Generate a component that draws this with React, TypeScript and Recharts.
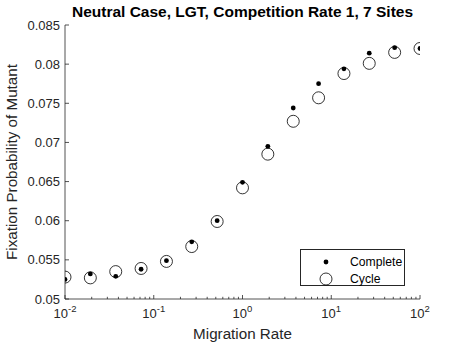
import React from 'react';
import { Legend, Scatter, ScatterChart, XAxis, YAxis } from 'recharts';

const rates = [0.01, 0.0193, 0.0373, 0.072, 0.139, 0.268, 0.518, 1, 1.93, 3.73, 7.2, 13.9, 26.8, 51.8, 100];
const complete = [0.0525, 0.0532, 0.0529, 0.0538, 0.0549, 0.0573, 0.06, 0.0649, 0.0695, 0.0744, 0.0775, 0.0794, 0.0814, 0.0821, 0.082];
const cycle = [0.0528, 0.0527, 0.0535, 0.0539, 0.0548, 0.0567, 0.0599, 0.0642, 0.0685, 0.0727, 0.0757, 0.0788, 0.0801, 0.0815, 0.082];

const majorX = [0.01, 0.1, 1, 10, 100];
const majorXExp = ['-2', '-1', '0', '1', '2'];
const minorX = majorX.slice(0, 4).flatMap((d) => [2, 3, 4, 5, 6, 7, 8, 9].map((m) => d * m));
const yTicks = [0.05, 0.055, 0.06, 0.065, 0.07, 0.075, 0.08, 0.085];
const yLabels = ['0.05', '0.055', '0.06', '0.065', '0.07', '0.075', '0.08', '0.085'];

const completeData = rates.map((r, i) => ({ rate: r, p: complete[i] }));
const cycleData = rates.map((r, i) => ({ rate: r, p: cycle[i] }));

const FONT = '"Liberation Sans", Arial, Helvetica, sans-serif';
const AXIS = '#262626';

const XTick = ({ x, y, payload }: any) => {
  const v = payload.value;
  const idx = majorX.findIndex((m) => Math.abs(m - v) / m < 1e-6);
  const major = idx >= 0;
  return (
    <g>
      <line x1={x} x2={x} y1={y} y2={y - (major ? 4 : 2.2)} stroke={AXIS} strokeWidth={0.8} />
      {major && (
        <text x={x} y={y + 19} textAnchor="middle" fontSize={13} fill={AXIS} fontFamily={FONT}>
          10
          <tspan dy={-6} fontSize={9.5}>{majorXExp[idx]}</tspan>
        </text>
      )}
    </g>
  );
};

const YTick = ({ x, y, payload, index }: any) => (
  <g>
    <line x1={x} x2={x + 4} y1={y} y2={y} stroke={AXIS} strokeWidth={0.8} />
    <text x={x - 5} y={y + 4.5} textAnchor="end" fontSize={13} fill={AXIS} fontFamily={FONT}>
      {yLabels[index] ?? payload.value}
    </text>
  </g>
);

const Dot = ({ cx, cy }: any) => <circle cx={cx} cy={cy} r={2.4} fill="#000" />;
const Ring = ({ cx, cy }: any) => <circle cx={cx} cy={cy} r={6} fill="none" stroke="#000" strokeWidth={0.8} />;

const LegendBox = () => (
  <div
    style={{
      position: 'absolute',
      left: 300,
      top: 249,
      width: 105,
      height: 37,
      border: '1px solid #262626',
      background: '#fff',
      boxSizing: 'border-box',
    }}
  >
    <svg width={105} height={37} style={{ position: 'absolute', left: -1, top: -1 }}>
      <circle cx={26} cy={13} r={2.4} fill="#000" />
      <circle cx={26} cy={30} r={6} fill="none" stroke="#000" strokeWidth={0.8} />
      <text x={50} y={17} fontSize={12.2} fill="#000" fontFamily={FONT}>Complete</text>
      <text x={50} y={34} fontSize={12.2} fill="#000" fontFamily={FONT}>Cycle</text>
    </svg>
  </div>
);

export default function App() {
  return (
    <div style={{ position: 'absolute', left: 0, top: 0, width: 464, height: 348, background: '#fff', fontFamily: FONT }}>
      <ScatterChart width={464} height={348} margin={{ top: 25, right: 44, bottom: 0, left: 0 }}>
        <XAxis
          type="number"
          dataKey="rate"
          scale="log"
          domain={[0.01, 100]}
          ticks={[...majorX, ...minorX].sort((a, b) => a - b)}
          interval={0}
          allowDataOverflow
          height={49}
          tickSize={0}
          tickMargin={0}
          tickLine={false}
          stroke={AXIS}
          strokeWidth={0.8}
          tick={<XTick />}
        />
        <YAxis
          type="number"
          dataKey="p"
          domain={[0.05, 0.085]}
          ticks={yTicks}
          interval={0}
          allowDataOverflow
          width={65}
          tickSize={0}
          tickMargin={0}
          tickLine={false}
          stroke={AXIS}
          strokeWidth={0.8}
          tick={<YTick />}
        />
        <Scatter name="Complete" data={completeData} shape={<Dot />} isAnimationActive={false} />
        <Scatter name="Cycle" data={cycleData} shape={<Ring />} isAnimationActive={false} />
        <Legend content={() => null} />
      </ScatterChart>
      <LegendBox />
      <div
        style={{
          position: 'absolute',
          left: 65,
          width: 355,
          top: 3,
          textAlign: 'center',
          fontWeight: 'bold',
          fontSize: 15.5,
          color: '#000',
          whiteSpace: 'nowrap',
        }}
      >
        Neutral Case, LGT, Competition Rate 1, 7 Sites
      </div>
      <div
        style={{
          position: 'absolute',
          left: 65,
          width: 355,
          top: 325,
          textAlign: 'center',
          fontSize: 15.2,
          color: AXIS,
        }}
      >
        Migration Rate
      </div>
      <div
        style={{
          position: 'absolute',
          left: 11,
          top: 162,
          transform: 'translate(-50%, -50%) rotate(-90deg)',
          fontSize: 15.2,
          color: AXIS,
          whiteSpace: 'nowrap',
        }}
      >
        Fixation Probability of Mutant
      </div>
    </div>
  );
}
